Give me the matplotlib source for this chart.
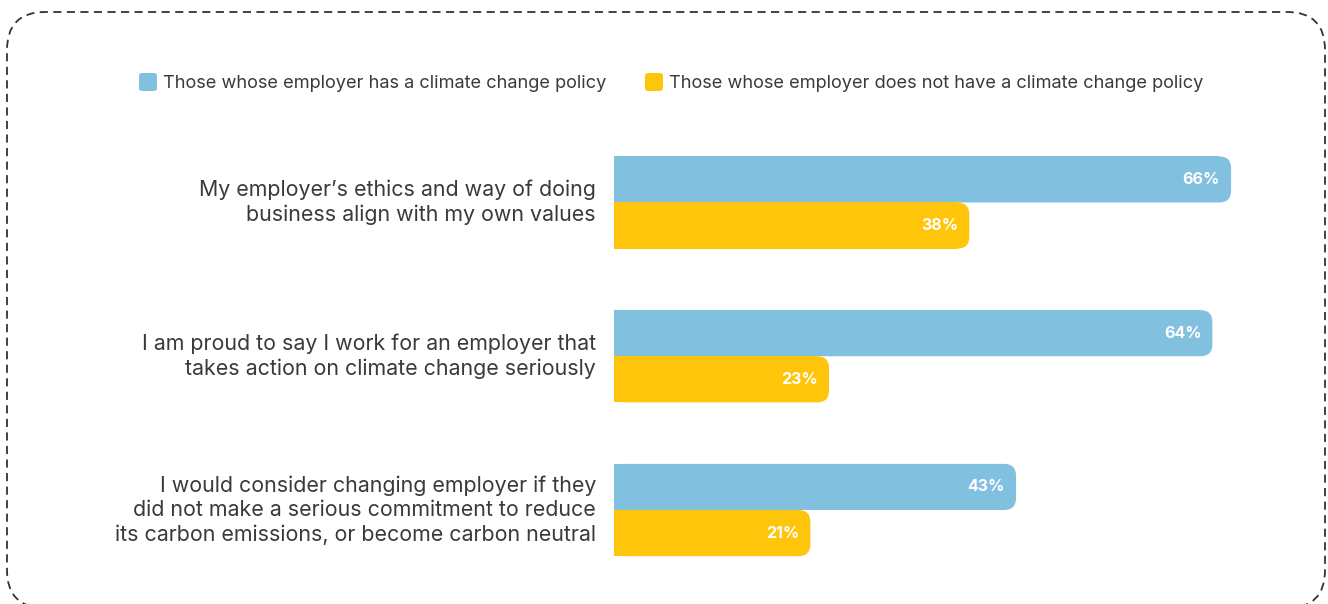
import numpy as np
import matplotlib.pyplot as plt
from matplotlib.patches import FancyBboxPatch, Rectangle

plt.rcParams["font.family"] = ["Inter", "DejaVu Sans"]

statements = [
    "My employer\u2019s ethics and way of doing\nbusiness align with my own values",
    "I am proud to say I work for an employer that\ntakes action on climate change seriously",
    "I would consider changing employer if they\ndid not make a serious commitment to reduce\nits carbon emissions, or become carbon neutral",
]
with_policy = [66, 64, 43]
without_policy = [38, 23, 21]
series_names = [
    "Those whose employer has a climate change policy",
    "Those whose employer does not have a climate change policy",
]

BLUE = "#82C0E0"
YELLOW = "#FFC50B"
TEXT = "#3a3a3a"

W, H = 1328, 604
fig = plt.figure(figsize=(W / 100, H / 100), dpi=100)

# background layer in pixel units (y measured up from the bottom): frame and legend
bg = fig.add_axes([0, 0, 1, 1])
bg.set_xlim(0, W)
bg.set_ylim(0, H)
bg.axis("off")

frame = FancyBboxPatch((7, -4), 1318, H - 12 + 4, boxstyle="round,pad=0,rounding_size=38",
                       fill=False, edgecolor="#333333", linewidth=1.3,
                       linestyle=(0, (4.5, 3)), clip_on=False)
bg.add_patch(frame)

for (x0, name, col) in [(139, series_names[0], BLUE), (645, series_names[1], YELLOW)]:
    bg.add_patch(FancyBboxPatch((x0, H - 91), 18, 18, boxstyle="round,pad=0,rounding_size=3",
                                facecolor=col, edgecolor="none"))
    bg.text(x0 + 24, H - 83.5, name, fontsize=13.1, color=TEXT, va="center", ha="left")

# bar layer: x in percent, one unit of y per statement
ax = fig.add_axes([614 / W, 1 - 586.9 / H, 654.5 / W, 461.3 / H])
ax.set_xlim(0, 70)
ax.set_ylim(2.5, -0.5)
ax.axis("off")

bar_h = 0.3
px_x = ax.transData.transform((1, 0))[0] - ax.transData.transform((0, 0))[0]
px_y = abs(ax.transData.transform((0, 1))[1] - ax.transData.transform((0, 0))[1])
r_px = 12
r_x = r_px / px_x
aspect = (r_px / px_y) / r_x


def rounded_bar(y, value, color):
    top = y - bar_h / 2
    ax.add_patch(FancyBboxPatch((0, top), value, bar_h,
                                boxstyle=f"round,pad=0,rounding_size={r_x}",
                                mutation_aspect=aspect, facecolor=color,
                                edgecolor="none"))
    # square off the left end
    ax.add_patch(Rectangle((0, top), value - r_x, bar_h, facecolor=color,
                           edgecolor="none"))
    ax.text(value - 11 / px_x, y, f"{value}%", color="white", fontsize=11.5,
            fontweight="bold", ha="right", va="center")


for i, (a, b) in enumerate(zip(with_policy, without_policy)):
    rounded_bar(i - bar_h / 2, a, BLUE)
    rounded_bar(i + bar_h / 2, b, YELLOW)
    ax.text(-18 / px_x, i, statements[i], ha="right", va="center",
            multialignment="right", fontsize=15.4, color=TEXT, linespacing=1.26,
            clip_on=False)

fig.savefig("out.png", dpi=100)
